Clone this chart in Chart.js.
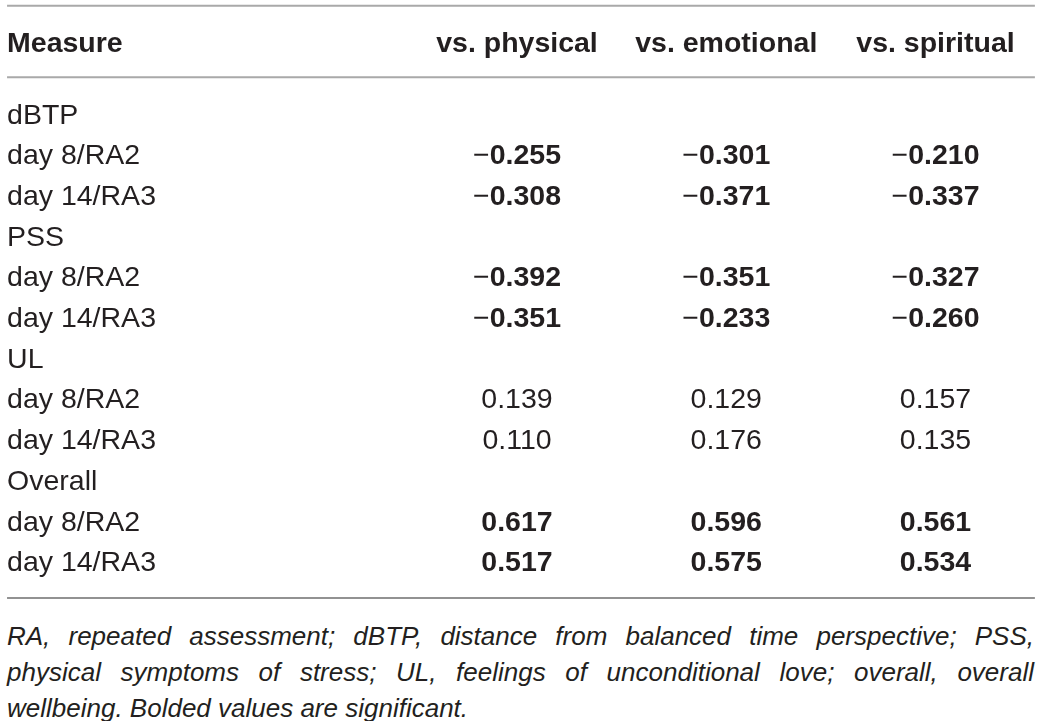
<!DOCTYPE html>
<html>
<head>
<meta charset="utf-8">
<script src="https://cdn.jsdelivr.net/npm/chart.js@4"></script>
<style>
  body { margin: 0; background: #fff; }
  #wrap { position: relative; width: 1041px; height: 610px; }
  #note {
    position: absolute; left: 7px; top: 618px; width: 1027px;
    font: italic 26px "Liberation Sans", Arial, sans-serif;
    line-height: 36px; color: #231f20;
  }
  #note div { text-align: justify; text-align-last: justify; white-space: nowrap; }
  #note div.last { text-align-last: left; }
</style>
</head>
<body>
<div id="wrap"><canvas id="table"></canvas></div>
<div id="note">
  <div>RA, repeated assessment; dBTP, distance from balanced time perspective; PSS,</div>
  <div>physical symptoms of stress; UL, feelings of unconditional love; overall, overall</div>
  <div class="last">wellbeing. Bolded values are significant.</div>
</div>
<script>
// table content
const headerLabel = 'Measure';
const columns = ['vs. physical', 'vs. emotional', 'vs. spiritual'];
const rowLabels = ['dBTP', 'day 8/RA2', 'day 14/RA3', 'PSS', 'day 8/RA2', 'day 14/RA3',
                   'UL', 'day 8/RA2', 'day 14/RA3', 'Overall', 'day 8/RA2', 'day 14/RA3'];
const physical  = [null, -0.255, -0.308, null, -0.392, -0.351, null, 0.139, 0.110, null, 0.617, 0.517];
const emotional = [null, -0.301, -0.371, null, -0.351, -0.233, null, 0.129, 0.176, null, 0.596, 0.575];
const spiritual = [null, -0.210, -0.337, null, -0.327, -0.260, null, 0.157, 0.135, null, 0.561, 0.534];
const significant = [null, true, true, null, true, true, null, false, false, null, true, true];

// layout in scale units (columns 1..3, body rows 1..12)
const headerRow = -0.7575;
const labelX = -1.437;
const ruleLeft = -1.437, ruleRight = 3.475;
const rules = [
    { at: -1.65, color: '#a9a9a9', width: 2 },
    { at: 0.11, color: '#a9a9a9', width: 2 },
    { at: 12.909, color: '#6e6e6e', width: 1.6 }
];

const FONT = '"Liberation Sans", Arial, sans-serif';
const SIZE = 28.5;
const INK = '#231f20';

function toPoints(values) {
    const pts = [];
    values.forEach((v, i) => {
        if (v !== null) pts.push({ x: 0, y: i + 1, v: v });
    });
    return pts;
}

const seriesList = [physical, emotional, spiritual];
const datasets = seriesList.map((vals, c) => ({
    label: columns[c],
    data: toPoints(vals).map(p => ({ x: c + 1, y: p.y, v: p.v })),
    pointRadius: 0,
    showLine: false
}));

// draws the cell text at the positions the scales give
const tablePlugin = {
    id: 'tableText',
    afterDatasetsDraw(chart) {
        const ctx = chart.ctx;
        const xs = chart.scales.x, ys = chart.scales.y;
        const base = y => y + SIZE * 0.358;
        ctx.save();
        ctx.fillStyle = INK;
        ctx.textBaseline = 'alphabetic';

        // rules
        rules.forEach(r => {
            const y = ys.getPixelForValue(r.at);
            ctx.strokeStyle = r.color;
            ctx.lineWidth = r.width;
            ctx.beginPath();
            ctx.moveTo(xs.getPixelForValue(ruleLeft), y);
            ctx.lineTo(xs.getPixelForValue(ruleRight), y);
            ctx.stroke();
        });

        // header
        const hy = base(ys.getPixelForValue(headerRow));
        ctx.font = 'bold ' + SIZE + 'px ' + FONT;
        ctx.textAlign = 'left';
        ctx.fillText(headerLabel, xs.getPixelForValue(labelX), hy);
        ctx.textAlign = 'center';
        columns.forEach((c, i) => ctx.fillText(c, xs.getPixelForValue(i + 1), hy));

        // row labels
        ctx.font = SIZE + 'px ' + FONT;
        ctx.textAlign = 'left';
        rowLabels.forEach((lab, i) => {
            ctx.fillText(lab, xs.getPixelForValue(labelX), base(ys.getPixelForValue(i + 1)));
        });

        // values
        chart.data.datasets.forEach((ds, d) => {
            const meta = chart.getDatasetMeta(d);
            meta.data.forEach((el, j) => {
                const v = ds.data[j].v;
                const bold = significant[ds.data[j].y - 1];
                const num = Math.abs(v).toFixed(3);
                const minus = v < 0 ? '\u2212' : '';
                const numFont = (bold ? 'bold ' : '') + SIZE + 'px ' + FONT;
                ctx.font = SIZE + 'px ' + FONT;
                const mw = minus ? ctx.measureText(minus).width : 0;
                ctx.font = numFont;
                const nw = ctx.measureText(num).width;
                let x = el.x - (mw + nw) / 2;
                const y = base(el.y);
                ctx.textAlign = 'left';
                if (minus) {
                    ctx.font = SIZE + 'px ' + FONT;
                    ctx.fillText(minus, x, y);
                    x += mw;
                }
                ctx.font = numFont;
                ctx.fillText(num, x, y);
            });
        });
        ctx.restore();
    }
};

new Chart(document.getElementById('table'), {
    type: 'scatter',
    data: { datasets: datasets },
    options: {
        responsive: true,
        maintainAspectRatio: false,
        animation: false,
        events: [],
        layout: { padding: 0 },
        plugins: { legend: { display: false }, tooltip: { enabled: false } },
        scales: {
            x: { type: 'linear', display: false, min: -1.4707, max: 3.5042 },
            y: { type: 'linear', display: false, reverse: true, min: -1.790, max: 13.2045 }
        }
    },
    plugins: [tablePlugin]
});
</script>
</body>
</html>
